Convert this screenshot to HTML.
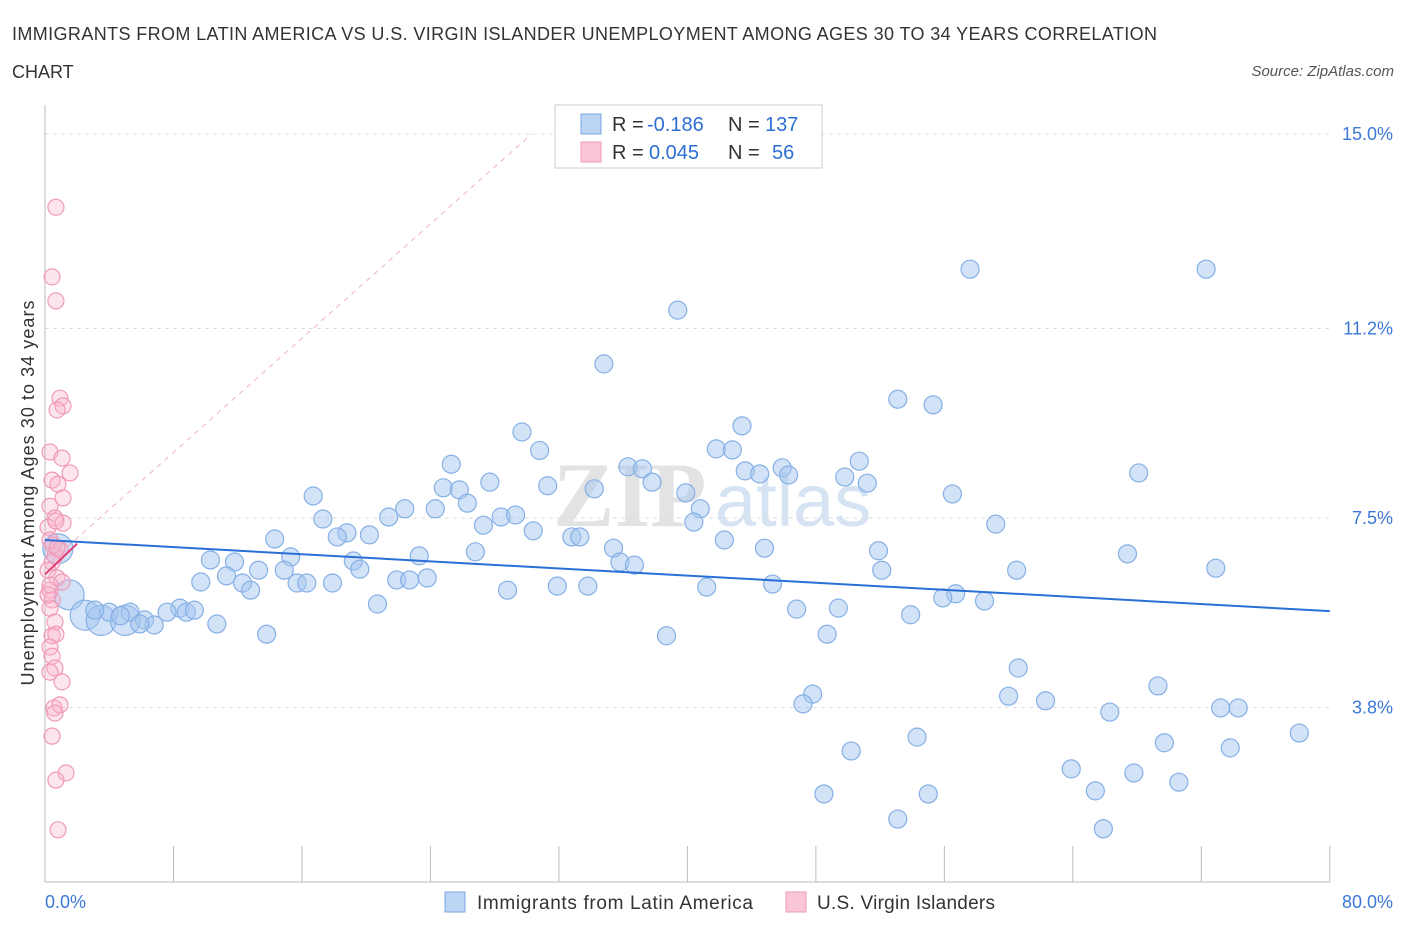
<!DOCTYPE html>
<html><head><meta charset="utf-8"><style>
body{margin:0;background:#fff;font-family:"Liberation Sans",sans-serif;}
svg{display:block}
</style></head><body>
<svg width="1406" height="930" xmlns="http://www.w3.org/2000/svg">
<text x="12" y="40" font-size="18" fill="#333" textLength="1145">IMMIGRANTS FROM LATIN AMERICA VS U.S. VIRGIN ISLANDER UNEMPLOYMENT AMONG AGES 30 TO 34 YEARS CORRELATION</text>
<text x="12" y="78" font-size="18" fill="#333">CHART</text>
<text x="1394" y="76" font-size="15" fill="#555" font-style="italic" text-anchor="end">Source: ZipAtlas.com</text>
<text x="0" y="0" transform="translate(34,493) rotate(-90)" font-size="18" fill="#333" text-anchor="middle" textLength="385">Unemployment Among Ages 30 to 34 years</text>
<g><text x="553" y="526" font-size="92" fill="#e3e3e3" font-family="Liberation Serif,serif" font-weight="bold">ZIP</text><text x="715" y="526" font-size="74" fill="#d5e3f3">atlas</text></g>
<g id="grid"></g>
<g id="axes"></g>
<g id="pts"></g>
<g id="lines"></g>
<g>
<rect x="555" y="105" width="267" height="63" fill="#fff" stroke="#ccc"/>
<rect x="581" y="114" width="20" height="20" fill="#bcd5f5" stroke="#7aa7e0"/>
<text x="612" y="131" font-size="20" fill="#333">R =</text>
<text x="647" y="131" font-size="20" fill="#2d6fd3">-0.186</text>
<text x="728" y="131" font-size="20" fill="#333">N =</text>
<text x="765" y="131" font-size="20" fill="#2d6fd3">137</text>
<rect x="581" y="142" width="20" height="20" fill="#f9c6d6" stroke="#ee9ab6"/>
<text x="612" y="159" font-size="20" fill="#333">R =</text>
<text x="649" y="159" font-size="20" fill="#2d6fd3">0.045</text>
<text x="728" y="159" font-size="20" fill="#333">N =</text>
<text x="772" y="159" font-size="20" fill="#2d6fd3">56</text>
</g>
<g>
<rect x="445" y="892" width="20" height="20" fill="#bcd5f5" stroke="#7aa7e0"/>
<text x="477" y="909" font-size="19" fill="#333" textLength="276">Immigrants from Latin America</text>
<rect x="786" y="892" width="20" height="20" fill="#f9c6d6" stroke="#ee9ab6"/>
<text x="817" y="909" font-size="19" fill="#333" textLength="178">U.S. Virgin Islanders</text>
</g>
</svg>
<script>
const blue=[[57.6,12.36],[72.3,12.36],[39.4,11.56],[34.8,10.51],[53.1,9.82],[55.3,9.71],[43.4,9.30],[29.7,9.18],[30.8,8.82],[41.8,8.85],[42.8,8.83],[25.3,8.55],[36.3,8.50],[37.2,8.46],[43.6,8.42],[44.5,8.36],[45.9,8.48],[46.3,8.34],[50.7,8.61],[49.8,8.30],[51.2,8.18],[37.8,8.20],[68.1,8.38],[24.8,8.09],[25.8,8.05],[27.7,8.20],[31.3,8.13],[34.2,8.07],[39.9,7.99],[56.5,7.97],[16.7,7.93],[26.3,7.79],[28.4,7.52],[29.3,7.56],[40.8,7.68],[40.4,7.42],[22.4,7.68],[24.3,7.68],[21.4,7.52],[17.3,7.48],[27.3,7.36],[30.4,7.25],[18.8,7.21],[20.2,7.17],[18.2,7.13],[14.3,7.09],[32.8,7.13],[33.3,7.13],[42.3,7.07],[59.2,7.38],[44.8,6.91],[35.4,6.91],[26.8,6.84],[23.3,6.76],[15.3,6.74],[67.4,6.80],[51.9,6.86],[10.3,6.68],[11.8,6.64],[19.2,6.66],[19.6,6.50],[35.8,6.64],[36.7,6.58],[52.1,6.48],[60.5,6.48],[72.9,6.52],[13.3,6.48],[14.9,6.48],[11.3,6.37],[9.7,6.25],[23.8,6.33],[21.9,6.29],[22.7,6.29],[15.7,6.23],[16.3,6.23],[17.9,6.23],[12.3,6.23],[12.8,6.09],[31.9,6.17],[33.8,6.17],[28.8,6.09],[41.2,6.15],[45.3,6.21],[56.7,6.02],[55.9,5.94],[58.5,5.88],[20.7,5.82],[46.8,5.72],[49.4,5.74],[53.9,5.61],[8.4,5.74],[7.6,5.66],[8.8,5.66],[9.3,5.70],[5.3,5.66],[4.0,5.66],[3.1,5.70],[4.7,5.59],[6.2,5.51],[6.8,5.41],[5.9,5.43],[10.7,5.43],[48.7,5.23],[13.8,5.23],[38.7,5.20],[60.6,4.57],[69.3,4.22],[47.8,4.06],[60.0,4.02],[62.3,3.93],[47.2,3.87],[66.3,3.71],[73.2,3.79],[74.3,3.79],[78.1,3.30],[54.3,3.22],[69.7,3.11],[73.8,3.01],[50.2,2.95],[63.9,2.60],[67.8,2.52],[70.6,2.34],[48.5,2.11],[55.0,2.11],[65.4,2.17],[53.1,1.62],[65.9,1.43]];
const blueBig=[[0.8,6.9],[1.5,6.0],[2.5,5.6],[3.5,5.5],[5.0,5.5]];
const pink=[[0.68,13.57],[0.44,12.21],[0.68,11.74],[0.93,9.84],[1.12,9.69],[0.75,9.61],[0.31,8.79],[1.06,8.67],[1.56,8.38],[0.44,8.24],[0.81,8.16],[1.12,7.89],[0.31,7.73],[0.62,7.50],[1.12,7.40],[0.19,7.32],[0.68,7.44],[0.31,7.07],[0.93,6.88],[0.62,6.76],[0.44,6.64],[0.19,6.48],[0.75,6.33],[1.06,6.25],[0.31,6.09],[0.44,5.90],[0.31,5.74],[0.62,5.47],[0.44,5.20],[0.68,5.23],[0.31,4.98],[0.44,4.80],[0.62,4.57],[0.31,4.49],[1.06,4.30],[0.56,3.79],[0.93,3.85],[0.62,3.69],[0.44,3.24],[1.31,2.52],[0.68,2.38],[0.81,1.41],[0.31,6.19],[0.19,6.00],[0.5,6.97],[0.75,6.91]];
const yTicks=[15.0,11.2,7.5,3.8];
const xTickCount=[0,8,16,24,32,40,48,56,64,72,80];
const blueTrend=[[0,7.07],[80,5.68]];
const pinkTrend=[[0,6.4],[2,7.0]];
const diag=[[0,6.55],[30.3,15.0]];
const X=v=>45+v*16.06, Y=v=>902-v*51.2;
const NS="http://www.w3.org/2000/svg";
function mk(tag,attrs,parent){const e=document.createElementNS(NS,tag);for(const k in attrs)e.setAttribute(k,attrs[k]);document.getElementById(parent).appendChild(e);return e;}
yTicks.forEach(t=>{
 const l=mk('line',{x1:45,x2:1330,y1:Y(t),y2:Y(t),stroke:'#ddd','stroke-dasharray':'4,4'},'grid');
 
 
 const tx=mk('text',{x:1393,y:Y(t)+6,'font-size':18,fill:'#3b78d8','text-anchor':'end'},'grid');
 tx.textContent=t.toFixed(1)+'%';
 
 
});
let a=mk('line',{x1:45,x2:45,y1:105,y2:882,stroke:'#bbb'},'axes');


a=mk('line',{x1:45,x2:1330,y1:882,y2:882,stroke:'#bbb'},'axes');


xTickCount.forEach(t=>{
 const l=mk('line',{x1:X(t),x2:X(t),y1:846,y2:882,stroke:'#bbb'},'axes');
 
 
});
let t0=mk('text',{x:45,y:908,'font-size':18,fill:'#3b78d8'},'axes');t0.textContent='0.0%';


let t1=mk('text',{x:1393,y:908,'font-size':18,fill:'#3b78d8','text-anchor':'end'},'axes');t1.textContent='80.0%';


blueBig.forEach(p=>{
 const c=mk('circle',{cx:X(p[0]),cy:Y(p[1]),r:15,fill:'rgba(165,198,240,0.5)',stroke:'#86b0e6','stroke-width':1.2},'pts');
 
 
});
blue.forEach(p=>{
 const c=mk('circle',{cx:X(p[0]),cy:Y(p[1]),r:9,fill:'rgba(165,198,240,0.5)',stroke:'#86b0e6','stroke-width':1.2},'pts');
 
 
});
pink.forEach(p=>{
 const c=mk('circle',{cx:X(p[0]),cy:Y(p[1]),r:8,fill:'rgba(248,180,204,0.35)',stroke:'#f09ab8','stroke-width':1.2},'pts');
 
 
});
let d=mk('line',{x1:X(diag[0][0]),y1:Y(diag[0][1]),x2:X(diag[1][0]),y2:Y(diag[1][1]),stroke:'#eeb0c4','stroke-dasharray':'5,5','stroke-width':1},'lines');


let b=mk('line',{x1:X(blueTrend[0][0]),y1:Y(blueTrend[0][1]),x2:X(blueTrend[1][0]),y2:Y(blueTrend[1][1]),stroke:'#2a6fd6','stroke-width':2},'lines');


let p2=mk('line',{x1:X(pinkTrend[0][0]),y1:Y(pinkTrend[0][1]),x2:X(pinkTrend[1][0]),y2:Y(pinkTrend[1][1]),stroke:'#e0407a','stroke-width':2},'lines');


</script>
</body></html>
